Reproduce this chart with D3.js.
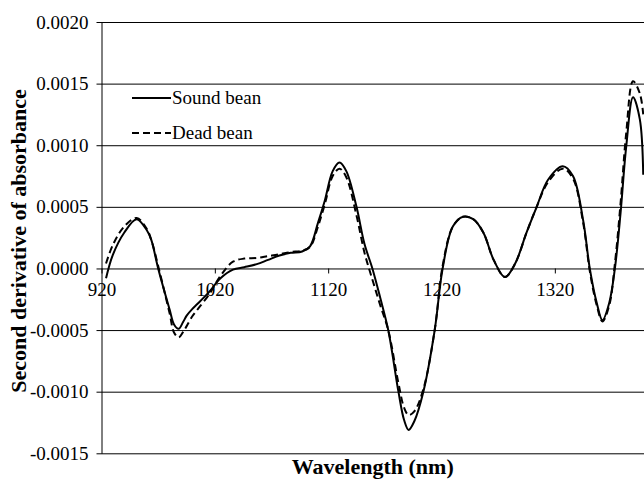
<!DOCTYPE html>
<html>
<head>
<meta charset="utf-8">
<script src="https://cdn.jsdelivr.net/npm/d3@7"></script>
<style>
	body { margin: 0; background: white; }
	svg { display: block; }
	svg text { font-family: "Liberation Serif", "Times New Roman", serif; }
</style>
</head>
<body>
<svg></svg>
<script>
// wavelengths in nm, values in units of 1e-4
const wavelengths = [924, 930, 940, 951, 960, 964, 970, 980, 984, 988, 992, 995, 1000,
	1005, 1015, 1025, 1036, 1046, 1057, 1067, 1077, 1087, 1097,
	1104, 1111, 1117, 1124, 1130, 1136, 1145, 1152, 1159, 1166,
	1173, 1182, 1187, 1191, 1196, 1204, 1214, 1221, 1230, 1239,
	1248, 1257, 1266, 1276, 1285, 1295, 1304, 1314, 1327, 1336,
	1345, 1351, 1357, 1362, 1368, 1373, 1378, 1383, 1389, 1395,
	1398];
const soundBean = [-0.8, 1.1, 2.9, 4.0, 3.1, 2.3, 0.0, -3.3, -4.55, -4.9, -4.35, -3.85, -3.3,
	-2.85, -1.9, -0.8, -0.1, 0.1, 0.35, 0.7, 1.05, 1.27, 1.38,
	1.8, 3.7, 5.5, 7.9, 8.6, 7.9, 5.0, 2.0, 0.0, -2.4,
	-5.0, -10.0, -12.3, -13.1, -12.4, -10.0, -5.0, 0.0, 3.4, 4.2,
	4.0, 2.9, 0.7, -0.7, 0.4, 2.9, 5.0, 7.2, 8.3, 7.5,
	3.9, -0.1, -2.8, -4.2, -2.8, 0.0, 4.5, 9.9, 13.9, 12.1,
	7.6];
const deadBean = [0.4, 1.9, 3.4, 4.1, 3.2, 2.3, 0.2, -3.6, -5.2, -5.6, -5.15, -4.7, -3.9,
	-3.3, -2.1, -0.6, 0.55, 0.8, 0.85, 1.0, 1.15, 1.33, 1.44,
	1.75, 3.4, 5.2, 7.5, 8.1, 7.4, 4.3, 1.3, -0.9, -3.0,
	-5.0, -9.3, -11.3, -11.9, -11.6, -9.8, -5.0, 0.2, 3.4, 4.2,
	4.0, 2.9, 0.7, -0.7, 0.4, 2.9, 5.0, 7.0, 8.1, 7.3,
	3.7, -0.3, -3.0, -4.3, -3.0, 0.4, 5.3, 11.0, 15.2, 14.2,
	12.5];
const xTicks = [920, 1020, 1120, 1220, 1320];
const yTicks = [-0.0015, -0.0010, -0.0005, 0.0000, 0.0005, 0.0010, 0.0015, 0.0020];
const seriesNames = ["Sound bean", "Dead bean"];

function drawChart() {
	const width = 644;
	const height = 479;
	const left = 101.5;
	const right = 645.5;
	const top = 22;
	const bottom = 453.3;
	const serif = '"Liberation Serif", "Times New Roman", serif';

	let series = [
		{ name: seriesNames[0], values: soundBean, dash: null },
		{ name: seriesNames[1], values: deadBean, dash: "7,4" }
	];

	let xScale = d3.scaleLinear()
		.domain([920, 1400])
		.range([left, right]);

	let yScale = d3.scaleLinear()
		.domain([-0.0015, 0.002])
		.range([bottom, top]);

	let svg = d3.select("svg")
		.attr("width", width)
		.attr("height", height);

	// y axis with gridlines
	let yAxis = d3.axisLeft(yScale)
		.tickValues(yTicks)
		.tickSizeInner(-(right - left))
		.tickSizeOuter(0)
		.tickPadding(13)
		.tickFormat((d) => d3.format(".4f")(d).replace("−", "-"));

	let yg = svg.append("g")
		.attr("transform", `translate(${left}, 0)`)
		.call(yAxis);
	yg.select(".domain").attr("stroke", "#000");
	yg.selectAll(".tick line")
		.attr("x1", -5)
		.attr("stroke", "#000");
	yg.selectAll(".tick text")
		.attr("font-family", serif)
		.attr("font-size", 19)
		.attr("fill", "#000");

	// x axis along zero
	let xAxis = d3.axisBottom(xScale)
		.tickValues(xTicks)
		.tickSize(5)
		.tickPadding(9)
		.tickFormat(d3.format("d"));

	let xg = svg.append("g")
		.attr("transform", `translate(0, ${yScale(0)})`)
		.call(xAxis);
	xg.select(".domain").remove();
	xg.selectAll(".tick line").attr("stroke", "#000");
	xg.selectAll(".tick text")
		.attr("font-family", serif)
		.attr("font-size", 19)
		.attr("fill", "#000");

	let line = d3.line()
		.x((d, i) => xScale(wavelengths[i]))
		.y((d) => yScale(d * 1e-4))
		.curve(d3.curveCatmullRom.alpha(0.5));

	svg.selectAll(".series")
		.data(series)
		.enter()
		.append("path")
			.classed("series", true)
			.attr("d", (d) => line(d.values))
			.attr("fill", "none")
			.attr("stroke", "#000")
			.attr("stroke-width", 2)
			.attr("stroke-dasharray", (d) => d.dash);

	// legend
	let legend = svg.selectAll(".legend")
		.data(series)
		.enter()
		.append("g")
			.classed("legend", true)
			.attr("transform", (d, i) => `translate(132, ${98 + 35 * i})`);
	legend.append("line")
		.attr("x1", 0)
		.attr("x2", 39)
		.attr("stroke", "#000")
		.attr("stroke-width", 2)
		.attr("stroke-dasharray", (d) => d.dash);
	legend.append("text")
		.attr("x", 40)
		.attr("y", 6)
		.attr("font-size", 19)
		.text((d) => d.name);

	svg.append("text")
		.attr("transform", `translate(26, 241) rotate(-90)`)
		.style("text-anchor", "middle")
		.attr("font-size", 22)
		.attr("font-weight", "bold")
		.text("Second derivative of absorbance");

	svg.append("text")
		.attr("x", (left + width) / 2)
		.attr("y", 474)
		.style("text-anchor", "middle")
		.attr("font-size", 22)
		.attr("font-weight", "bold")
		.text("Wavelength (nm)");
}

document.addEventListener("DOMContentLoaded", drawChart);
</script>
</body>
</html>
